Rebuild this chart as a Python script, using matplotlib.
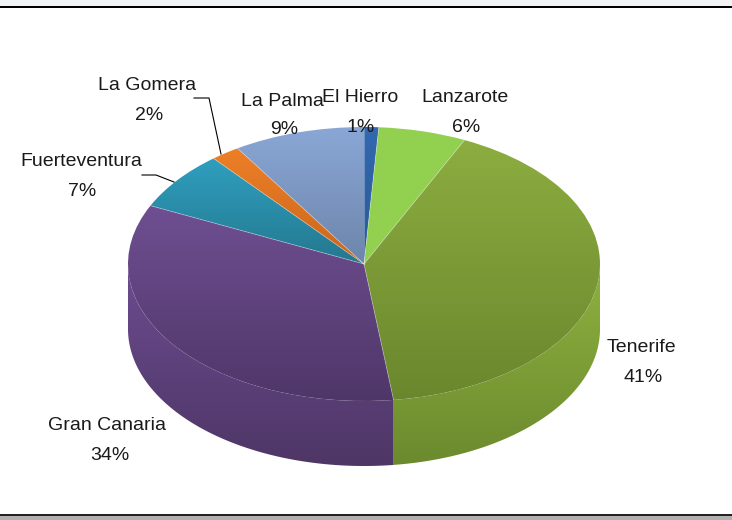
import numpy as np
import matplotlib
matplotlib.use('Agg')
import matplotlib.pyplot as plt
from matplotlib.colors import to_rgb
from matplotlib.patches import Polygon

plt.rcParams['font.family'] = ['Liberation Sans', 'DejaVu Sans']

# Pie data, clockwise from the top
islands = ['El Hierro', 'Lanzarote', 'Tenerife', 'Gran Canaria', 'Fuerteventura', 'La Gomera', 'La Palma']
shares = [1, 6, 41, 34, 7, 2, 9]

# top and bottom colour of each slice gradient
top_colors = ['#3369b0', '#92d050', '#8cad40', '#6f4f92', '#2f9fbf', '#ee7f27', '#8aa7d6']
bottom_colors = ['#2a5a95', '#92d050', '#6a872d', '#4f3668', '#24788f', '#c9661c', '#6d85aa']
side_top = {'Tenerife': '#8fb140', 'Gran Canaria': '#6c4c90'}
side_bottom = {'Tenerife': '#6b8a2e', 'Gran Canaria': '#4e3666'}

W, H = 732, 520
CX, CY, RX, RY, DEPTH = 364, 264, 236, 137, 65


def gradient(ax, c1, c2, extent, clip, zorder):
    c1, c2 = np.array(to_rgb(c1)), np.array(to_rgb(c2))
    t = np.linspace(0, 1, 256)[:, None, None]
    img = ax.imshow(c1 * (1 - t) + c2 * t, extent=extent, origin='upper', aspect='auto',
                    interpolation='bilinear', zorder=zorder)
    img.set_clip_path(clip)


fig = plt.figure(figsize=(W / 100, H / 100), dpi=100)

# pie axes: unit circle squashed into the ellipse of the 3d look
ax = fig.add_axes([0, 0, 1, 1])
xlim = ((0 - CX) / RX, (W - CX) / RX)
ylim = ((CY - H) / RY, CY / RY)
wedges, _ = ax.pie(shares, startangle=90, counterclock=False, radius=1,
                   wedgeprops={'facecolor': 'none', 'edgecolor': 'none'})

depth = DEPTH / RY
for wedge, name, c1, c2 in zip(wedges, islands, top_colors, bottom_colors):
    # rim below the front slices
    if name in side_top:
        a1, a2 = wedge.theta1, wedge.theta2
        if a1 < 0:
            a1 += 360
            a2 += 360
        a1, a2 = max(a1, 180), min(a2, 360)
        th = np.radians(np.linspace(a1, a2, 200))
        arc = np.column_stack([np.cos(th), np.sin(th)])
        rim = np.vstack([arc, (arc - [0, depth])[::-1]])
        poly = Polygon(rim, closed=True, facecolor='none', edgecolor='none', transform=ax.transData)
        ax.add_patch(poly)
        gradient(ax, side_top[name], side_bottom[name], (-1, 1, -1 - depth, 0), poly, 2)
    # slice face, gradient over its own height
    bb = wedge.get_path().transformed(wedge.get_patch_transform()).get_extents()
    gradient(ax, c1, c2, (bb.x0, bb.x1, bb.y0, bb.y1), wedge, 3)
    # thin light line along the slice border
    a = np.radians(wedge.theta1)
    ax.plot([0, np.cos(a)], [0, np.sin(a)], color='white', alpha=0.35, lw=0.6, zorder=4)

ax.set_aspect('auto')
ax.set_xlim(xlim)
ax.set_ylim(ylim)
ax.axis('off')

# overlay in pixels for the labels and window edges
ov = fig.add_axes([0, 0, 1, 1], facecolor='none')
ov.set_xlim(0, W)
ov.set_ylim(H, 0)
ov.axis('off')

ov.axhspan(0, 6, color='#f1f3f4', lw=0)
ov.axhspan(6, 7.5, color='black', lw=0)
ov.axhspan(514, 516, color='#222222', lw=0)
ov.axhspan(516, 520, color='#b0b0b0', lw=0)

name_pos = [(360, 97), (465, 97), (641, 347), (107, 425), (81, 162), (147, 85), (282, 101)]
value_pos = [(361, 128), (466, 128), (643, 378), (110, 456), (82, 192), (149, 115), (284, 130)]
for name, share, p, q in zip(islands, shares, name_pos, value_pos):
    ov.text(p[0], p[1], name, ha='center', va='center', fontsize=14, color='#1a1a1a')
    ov.text(q[0], q[1], f'{share}%', ha='center', va='center', fontsize=14, color='#1a1a1a')

# leader lines
ov.plot([194, 209, 221], [98, 98, 154], color='black', lw=0.8)
ov.plot([142, 156, 174], [175, 175, 182], color='black', lw=0.8)

fig.savefig('out.png', dpi=100)
